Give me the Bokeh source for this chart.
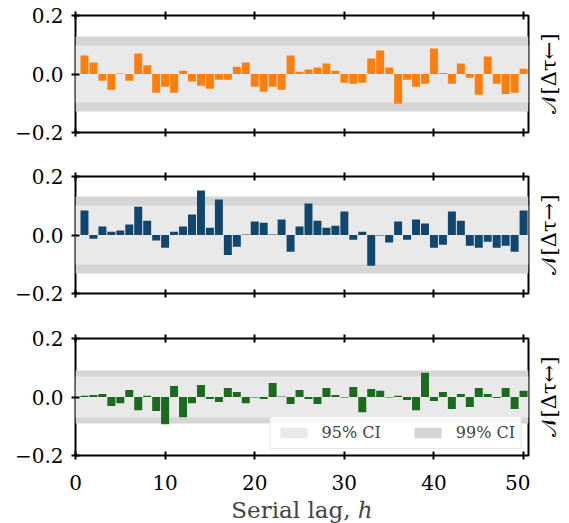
import math
from bokeh.plotting import figure
from bokeh.models import (Range1d, FixedTicker, CustomJSTickFormatter, LinearAxis,
                          Legend, LegendItem, Label)
from bokeh.layouts import column, row
from bokeh.embed import file_html
from bokeh.resources import INLINE

lags = list(range(1, 51))
acf_left = [0.063, 0.039, -0.023, -0.054, 0.002, -0.023, 0.070, 0.030, -0.064, -0.044,
            -0.064, 0.011, -0.026, -0.040, -0.050, -0.020, -0.020, 0.025, 0.039, -0.044,
            -0.061, -0.044, -0.054, 0.063, 0.008, 0.015, 0.022, 0.036, 0.011, -0.030,
            -0.033, -0.030, 0.053, 0.080, 0.022, -0.102, -0.020, -0.044, -0.033, 0.087,
            0.003, -0.033, 0.036, -0.013, -0.071, 0.060, -0.033, -0.068, -0.064, 0.018]
acf_right = [0.084, -0.013, 0.029, 0.011, 0.015, 0.036, 0.097, 0.049, -0.019, -0.044,
             0.011, 0.029, 0.070, 0.152, 0.025, 0.121, -0.068, -0.040, 0.002, 0.046,
             0.042, 0.002, 0.053, -0.057, 0.029, 0.108, 0.049, 0.025, 0.032, 0.080,
             -0.016, 0.011, -0.105, -0.002, -0.026, 0.046, -0.016, 0.053, 0.039, -0.044,
             -0.033, 0.080, 0.049, -0.037, -0.044, -0.023, -0.044, -0.037, -0.057, 0.084]
acf_both = [0.004, 0.007, 0.010, -0.031, -0.021, 0.024, -0.045, 0.004, -0.048, -0.093,
            0.038, -0.069, -0.021, 0.041, -0.007, -0.017, 0.031, 0.017, -0.021, -0.002,
            -0.007, 0.048, 0.002, -0.024, 0.024, -0.007, -0.024, 0.031, 0.007, -0.002,
            0.034, -0.052, 0.027, 0.021, -0.002, 0.004, -0.010, -0.045, 0.083, -0.014,
            0.017, -0.041, 0.010, -0.034, 0.031, 0.010, -0.003, 0.031, -0.041, 0.021]
ci95 = [0.097, 0.100, 0.071]
ci99 = [0.127, 0.130, 0.092]
x_ticks = [0, 10, 20, 30, 40, 50]
y_ticks = [-0.2, 0.0, 0.2]
series = [acf_left, acf_right, acf_both]
panel_labels = ["𝒩[Δτ←]", "𝒩[Δτ→]", "𝒩[Δτ↔]"]
colors = ["#ff7f0e", "#11466f", "#1b6a1e"]
x_label = "Serial lag, ℎ"
legend_labels = ["95% CI", "99% CI"]

FONT = "DejaVu Serif"
X_MAX = 50.55
xr = Range1d(0, X_MAX)

EMPTY = "return '';"

# (top border, bottom border, show x labels)
borders = [(15, 22, False), (22, 22, False), (23, 68, True)]
rows = []
for i in range(3):
    top_b, bot_b, show_x = borders[i]
    p = figure(frame_width=453, frame_height=117, x_range=xr,
               y_range=Range1d(-0.2, 0.2), output_backend="svg",
               toolbar_location=None, min_border_left=75, min_border_right=2,
               min_border_top=top_b, min_border_bottom=bot_b)
    p.grid.visible = False
    p.outline_line_color = "black"
    p.outline_line_width = 2
    p.outline_line_alpha = 1
    p.background_fill_color = "white"
    p.border_fill_color = "white"

    for ax in p.xaxis + p.yaxis:
        ax.axis_line_color = None
        ax.major_tick_in = 4
        ax.major_tick_out = 4
        ax.major_tick_line_width = 2
        ax.major_tick_line_color = "black"
        ax.minor_tick_line_color = None
        ax.major_label_text_font = FONT
        ax.major_label_text_font_size = "20px"
        ax.major_label_text_color = "black"
    p.yaxis.ticker = FixedTicker(ticks=y_ticks)
    p.yaxis.formatter = CustomJSTickFormatter(
        code="return (tick < -1e-9 ? '\u2212' : '') + Math.abs(tick).toFixed(1);")
    p.yaxis.major_label_standoff = 8
    p.xaxis.ticker = FixedTicker(ticks=x_ticks)
    if show_x:
        p.xaxis.major_label_standoff = 15
        p.xaxis.axis_label = x_label
        p.xaxis.axis_label_text_font = FONT
        p.xaxis.axis_label_text_font_style = "normal"
        p.xaxis.axis_label_text_font_size = "23px"
        p.xaxis.axis_label_standoff = 4
    else:
        p.xaxis.formatter = CustomJSTickFormatter(code=EMPTY)
        p.xaxis.major_label_text_font_size = "1px"
        p.xaxis.major_label_standoff = 0
    top_ax = LinearAxis(ticker=FixedTicker(ticks=x_ticks), axis_line_color=None,
                        formatter=CustomJSTickFormatter(code=EMPTY),
                        major_tick_in=4, major_tick_out=4, major_tick_line_width=2,
                        minor_tick_line_color=None, major_label_text_font_size="1px",
                        major_label_standoff=0)
    p.add_layout(top_ax, "above")

    r99 = p.hstrip(y0=[-ci99[i]], y1=[ci99[i]], fill_color="#d5d5d5", line_color=None)
    r95 = p.hstrip(y0=[-ci95[i]], y1=[ci95[i]], fill_color="#e9e9e9", line_color=None)

    p.vbar(x=lags, top=series[i], bottom=0, width=0.89, fill_color=colors[i],
           line_color=None)

    if i == 2:
        legend = Legend(items=[LegendItem(label=legend_labels[0], renderers=[r95]),
                               LegendItem(label=legend_labels[1], renderers=[r99])],
                        orientation="horizontal", location="bottom_right",
                        label_text_font=FONT, label_text_font_size="16px",
                        glyph_width=34, glyph_height=13, spacing=30,
                        label_standoff=11, padding=6, margin=6,
                        border_line_color="#cccccc", border_line_width=1.5,
                        background_fill_alpha=0.85)
        p.add_layout(legend)

    # side label figure (reads bottom to top)
    q = figure(frame_width=39, frame_height=117, x_range=Range1d(-1, 1),
               y_range=Range1d(-1, 1), output_backend="svg", toolbar_location=None,
               x_axis_type=None, y_axis_type=None, min_border_left=0,
               min_border_right=0, min_border_top=top_b, min_border_bottom=bot_b)
    q.grid.visible = False
    q.outline_line_color = None
    q.background_fill_color = "white"
    q.border_fill_color = "white"
    q.add_layout(Label(x=0, y=0, x_offset=-1, text=panel_labels[i], angle=math.pi / 2,
                       text_align="center", text_baseline="middle", text_font=FONT,
                       text_font_size="21px", text_color="black"))
    rows.append(row(p, q, spacing=0))

layout = column(*rows, spacing=0)
open("out.html", "w").write(file_html(layout, INLINE))
